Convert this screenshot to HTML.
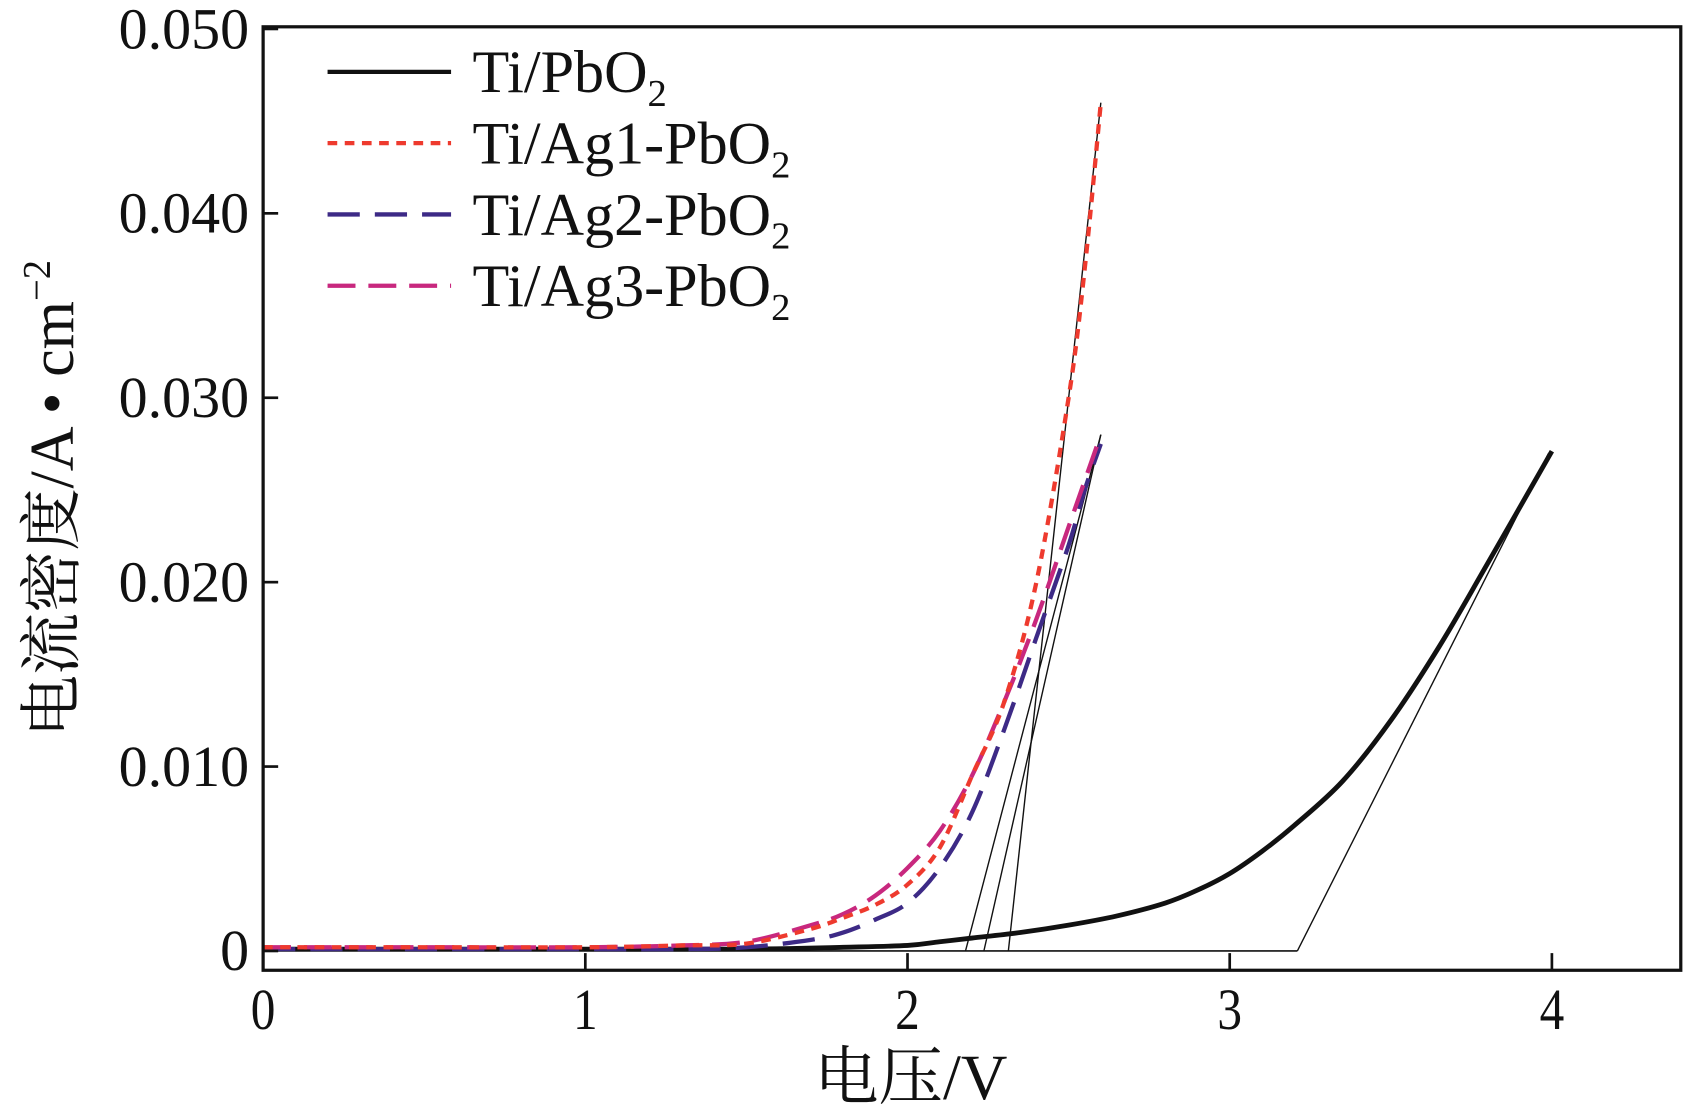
<!DOCTYPE html>
<html><head><meta charset="utf-8"><style>
html,body{margin:0;padding:0;background:#fff;}
svg{display:block;}
text{font-family:"Liberation Serif","Noto Serif CJK SC",serif;fill:#111;}
</style></head><body>
<svg id="chart" width="1684" height="1115" viewBox="0 0 1568 1040" preserveAspectRatio="none" xmlns="http://www.w3.org/2000/svg">
<g id="plot"></g>
<g id="axes"></g>
<g id="legend"></g>
</svg>
<script>
const xTicks=[0,1,2,3,4];
const yTicks=[0,0.010,0.020,0.030,0.040,0.050];
const yTickLabels=["0","0.010","0.020","0.030","0.040","0.050"];
const vPb=[0,0.5,1,1.5,1.8,2,2.1,2.2,2.35,2.5,2.65,2.8,2.9,3,3.1,3.2,3.35,3.5,3.65,3.8,4];
const iPb=[0.0001,0.0001,0.0001,0.0001,0.0002,0.0003,0.0005,0.0007,0.001,0.0014,0.0019,0.0026,0.0033,0.0042,0.0054,0.0068,0.0092,0.0125,0.0165,0.021,0.0271];
const vAg=[0,0.5,1,1.3,1.5,1.7,1.8,1.9,2,2.1,2.2,2.3,2.4,2.5,2.55,2.6];
const iAg1=[0.0002,0.0002,0.0002,0.0003,0.0004,0.0012,0.0018,0.0025,0.0036,0.0056,0.0095,0.0135,0.020,0.030,0.037,0.046];
const iAg2=[0.0001,0.0001,0.0001,0.0001,0.0002,0.0006,0.001,0.0017,0.0026,0.0045,0.0075,0.012,0.017,0.022,0.025,0.0275];
const iAg3=[0.0002,0.0002,0.0002,0.0003,0.0005,0.0014,0.002,0.003,0.0045,0.0065,0.0095,0.0135,0.018,0.023,0.0255,0.028];
const tangents=[[3.21,0,3.99,0.027],[2.18,0,2.6,0.028],[2.237,0,2.6,0.028],[2.313,0,2.6,0.046]];
const names=["Ti/PbO","Ti/Ag1-PbO","Ti/Ag2-PbO","Ti/Ag3-PbO"];
const X=v=>245+v*300, Y=i=>887-i*17200;
const NS="http://www.w3.org/2000/svg";
function mk(tag,attrs,parent){const e=document.createElementNS(NS,tag);for(const k in attrs)e.setAttribute(k,attrs[k]);parent.appendChild(e);return e;}
const plot=document.getElementById('plot'),axes=document.getElementById('axes'),leg=document.getElementById('legend');
let fr=mk('rect',{x:245,y:25,width:1320,height:880,fill:'none',stroke:'#111','stroke-width':3},axes);

let bl=mk('line',{x1:X(0),y1:Y(0),x2:X(3.21),y2:Y(0),stroke:'#111','stroke-width':1.5},plot);

xTicks.forEach((t,k)=>{
 let l=mk('line',{x1:X(t),y1:905,x2:X(t),y2:889,stroke:'#111','stroke-width':2.5},axes);
 
 let tx=mk('text',{x:X(t),y:960,'font-size':54,'text-anchor':'middle',transform:`translate(${X(t)},960) scale(0.85,1) translate(${-X(t)},-960)`},axes);tx.textContent=t;
 
});
yTicks.forEach((t,k)=>{
 let l=mk('line',{x1:245,y1:Y(t),x2:259,y2:Y(t),stroke:'#111','stroke-width':2.5},axes);
 
 let tx=mk('text',{x:232,y:Y(t)+18,'font-size':54,'text-anchor':'end'},axes);tx.textContent=yTickLabels[k];
 
});
let xt=mk('text',{x:848,y:1025,'font-size':60,'text-anchor':'middle'},axes);xt.textContent='电压/V';

let yt=mk('text',{x:0,y:0,'font-size':58,'text-anchor':'middle',transform:'translate(68,465) rotate(-90)'},axes);
yt.innerHTML='电流密度/A • cm<tspan dy="-22" font-size="36">−2</tspan>';

tangents.forEach(t=>{
 let l=mk('line',{x1:X(t[0]),y1:Y(t[1]),x2:X(t[2]),y2:Y(t[3]),stroke:'#111','stroke-width':1.3},plot);
 
});
const series=[[vPb,iPb,'#111','',4.5,'series-ti-pbo2'],[vAg,iAg2,'#3d2a86','30,14',4,'series-ti-ag2-pbo2'],[vAg,iAg3,'#c8287e','26,12',4,'series-ti-ag3-pbo2'],[vAg,iAg1,'#ee3a2e','9,7',4,'series-ti-ag1-pbo2']];
function smooth(pts){let d=`M${pts[0][0]},${pts[0][1]}`;for(let i=0;i<pts.length-1;i++){const p0=pts[i-1]||pts[i],p1=pts[i],p2=pts[i+1],p3=pts[i+2]||p2;d+=` C${p1[0]+(p2[0]-p0[0])/6},${p1[1]+(p2[1]-p0[1])/6} ${p2[0]-(p3[0]-p1[0])/6},${p2[1]-(p3[1]-p1[1])/6} ${p2[0]},${p2[1]}`;}return d;}
series.forEach(s=>{
 const pts=s[0].map((v,i)=>[X(v),Y(s[1][i])]);
 let p=mk('path',{d:smooth(pts),fill:'none',stroke:s[2],'stroke-width':s[4]},plot);
 if(s[3])p.setAttribute('stroke-dasharray',s[3]);
 
});
const lcol=['#111','#ee3a2e','#3d2a86','#c8287e'],ldash=['','9,7','30,14','26,12'];
names.forEach((n,k)=>{
 const y=67+k*66.5;
 let l=mk('line',{x1:305,y1:y,x2:420,y2:y,stroke:lcol[k],'stroke-width':4},leg);
 if(ldash[k])l.setAttribute('stroke-dasharray',ldash[k]);
 
 let t=mk('text',{x:440,y:y+19,'font-size':56},leg);
 t.innerHTML=n+'<tspan dy="13" font-size="36">2</tspan>';
 
});
</script>
</body></html>
